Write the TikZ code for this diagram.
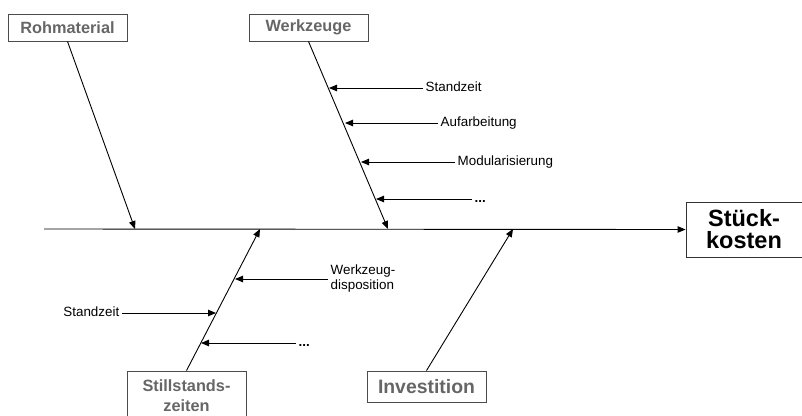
\documentclass[tikz,border=0pt]{standalone}
\usepackage{fontspec}
\setmainfont{Liberation Sans}
\usetikzlibrary{arrows.meta}

\begin{document}
\begin{tikzpicture}[x=1pt,y=-1pt,
    cause/.style={draw=black!70, line width=0.9pt, text=black!60,
        font=\fontsize{16.3}{20}\selectfont\bfseries, align=center,
        inner sep=0pt, minimum width=119pt, minimum height=27pt},
    effect/.style={draw=black!80, line width=0.9pt, align=center,
        font=\fontsize{23.5}{22}\selectfont\bfseries,
        inner sep=0pt, minimum width=116pt, minimum height=55pt},
    bone/.style={line width=0.9pt, -{Triangle[length=8pt,width=6.5pt]}},
    sub/.style={font=\fontsize{13.4}{15}\selectfont, inner sep=2.5pt},
    tag/.style={sub, text height=9.6pt, text depth=2.8pt}]

    \useasboundingbox (0,0) rectangle (802,415);

    % Boxes
    \node[cause] (rm) at (67.5,27.5) {Rohmaterial};
    \node[cause] (wz) at (308.5,27.5) {Werkzeuge};
    \node[cause, minimum height=50pt] (st) at (186.5,396) {Stillstands-\\zeiten};
    \node[cause, minimum height=31pt, font=\fontsize{19.4}{22}\selectfont\bfseries] (inv) at (426.5,386.5) {Investition};
    \node[effect] (sk) at (744,229.5) {Stück-\\kosten};

    % Draw the spine
    \coordinate (tail) at (44,229);
    \draw[bone] (tail) -- (sk.west);

    % Main bones
    \coordinate (b1) at (135,229);
    \coordinate (b2) at (388,229);
    \coordinate (b3) at (260,229);
    \coordinate (b4) at (513,229);
    \draw[bone] (rm.south) -- (b1);
    \draw[bone] (wz.south) -- (b2);
    \draw[bone] (st.north) -- (b3);
    \draw[bone] (inv.north) -- (b4);

    % Werkzeuge
    \coordinate (wt1) at (329,88);
    \coordinate (wt2) at (345,123);
    \coordinate (wt3) at (361,162);
    \coordinate (wt4) at (376,199);
    \node[tag, anchor=west] (ws1) at (423,88) {Standzeit};
    \node[tag, anchor=west] (ws2) at (438,123) {Aufarbeitung};
    \node[tag, anchor=west] (ws3) at (455,162) {Modularisierung};
    \node[tag, anchor=west] (ws4) at (472,199) {\textbf{...}};
    \draw[bone] (ws1.west) -- (wt1);
    \draw[bone] (ws2.west) -- (wt2);
    \draw[bone] (ws3.west) -- (wt3);
    \draw[bone] (ws4.west) -- (wt4);

    % Stillstandszeiten
    \coordinate (st1) at (235,279);
    \coordinate (st2) at (216,313);
    \coordinate (st3) at (201,343);
    \node[sub, anchor=west, align=left] (ss1) at (328,279) {Werkzeug-\\disposition};
    \node[tag, anchor=east] (ss2) at (122,313) {Standzeit};
    \node[tag, anchor=west] (ss3) at (296,343) {\textbf{...}};
    \draw[bone] (ss1.west) -- (st1);
    \draw[bone] (ss2.east) -- (st2);
    \draw[bone] (ss3.west) -- (st3);
\end{tikzpicture}
\end{document}
